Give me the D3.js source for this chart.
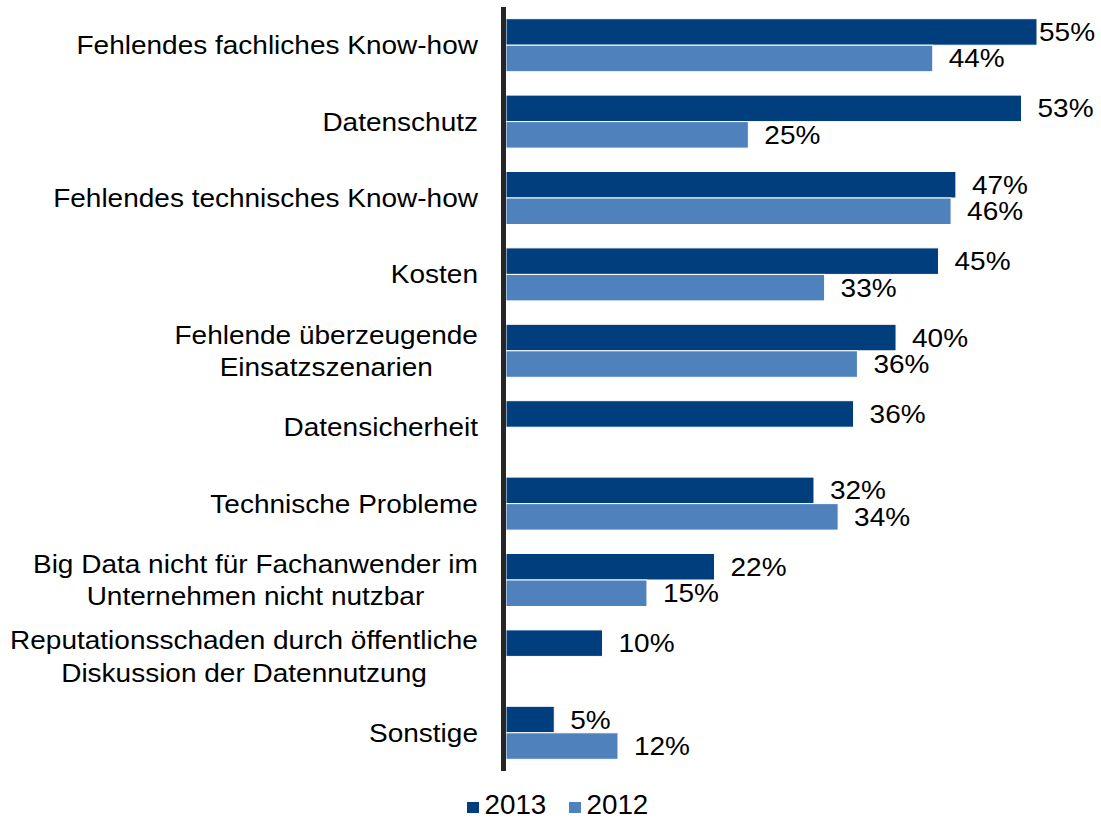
<!DOCTYPE html>
<html lang="de">
<head>
<meta charset="UTF-8">
<title>Big Data Hindernisse</title>
<script src="https://d3js.org/d3.v7.min.js"></script>
<style>
    body { margin: 0; background: #fff; }
    svg { display: block; }
    text { font-family: "Liberation Sans", Arial, sans-serif; fill: #000; }
</style>
</head>
<body>
<script>
    // Kategorien (mehrzeilige Beschriftungen mit "\n")
    const categories = [
        "Fehlendes fachliches Know-how",
        "Datenschutz",
        "Fehlendes technisches Know-how",
        "Kosten",
        "Fehlende überzeugende\nEinsatzszenarien",
        "Datensicherheit",
        "Technische Probleme",
        "Big Data nicht für Fachanwender im\nUnternehmen nicht nutzbar",
        "Reputationsschaden durch öffentliche\nDiskussion der Datennutzung",
        "Sonstige"
    ];
    const seriesNames = ["2013", "2012"];
    const values2013 = [55, 53.4, 46.6, 44.8, 40.4, 36.0, 31.9, 21.6, 10.0, 5.0];
    const values2012 = [44.2, 25.1, 46.1, 33.0, 36.4, null, 34.4, 14.6, null, 11.6];
    const colors = ["#003e7e", "#4f81bd"];

    const width = 1101, height = 820;
    const fontSize = 25;
    const stretch = 1.12; // Text ist im Original horizontal gestreckt

    const svg = d3.select("body").append("svg")
        .attr("width", width)
        .attr("height", height);

    const x = d3.scaleLinear().domain([0, 55]).range([506, 1037]);

    const y = d3.scaleBand()
        .domain(categories)
        .range([7, 771])
        .paddingInner(0.306)
        .paddingOuter(0.153);

    const ySub = d3.scaleBand()
        .domain(seriesNames)
        .range([0, y.bandwidth()]);

    const rows = categories.map((c, i) => ({
        cat: c,
        vals: [values2013[i], values2012[i]]
    }));

    const groups = svg.selectAll(".grp")
        .data(rows)
        .enter().append("g")
        .attr("class", "grp")
        .attr("transform", d => `translate(0,${y(d.cat)})`);

    const bars = groups.selectAll(".bar")
        .data(d => d.vals.map((v, j) => ({ v: v, s: seriesNames[j], j: j })).filter(e => e.v != null))
        .enter();

    bars.append("rect")
        .attr("x", x(0))
        .attr("y", d => ySub(d.s))
        .attr("width", d => x(d.v) - x(0))
        .attr("height", ySub.bandwidth())
        .attr("fill", d => colors[d.j])
        .attr("stroke", "#fff")
        .attr("stroke-width", 1);

    // Wertbeschriftungen rechts der Balken
    bars.append("text")
        .attr("transform", d => {
            const tx = Math.min(x(d.v) + 16, 1039);
            const ty = ySub(d.s) + ySub.bandwidth() / 2;
            return `translate(${tx},${ty}) scale(${stretch},1)`;
        })
        .attr("dy", "0.36em")
        .attr("font-size", fontSize)
        .text(d => Math.round(d.v) + "%");

    // Kategorienbeschriftungen: Block rechtsbündig, Zeilen zentriert
    const labelRight = 478, lineH = 32.5;
    groups.each(function (d) {
        const g = d3.select(this);
        const lines = d.cat.split("\n");
        const t = g.append("text")
            .attr("font-size", fontSize)
            .attr("text-anchor", "middle");
        lines.forEach((ln, k) => {
            t.append("tspan")
                .attr("x", 0)
                .attr("y", y.bandwidth() / 2 + (k - (lines.length - 1) / 2) * lineH)
                .attr("dy", "0.36em")
                .text(ln);
        });
        let maxW = 0;
        t.selectAll("tspan").each(function () {
            maxW = Math.max(maxW, this.getComputedTextLength());
        });
        t.attr("transform", `translate(${labelRight - maxW * stretch / 2},0) scale(${stretch},1)`);
    });

    // Achsenlinie
    svg.append("line")
        .attr("x1", 503.5).attr("x2", 503.5)
        .attr("y1", 7).attr("y2", 771)
        .attr("stroke", "#262626")
        .attr("stroke-width", 5);

    // Legende
    const legend = svg.append("g").attr("transform", "translate(467,805)");
    const legendX = [0, 102];
    seriesNames.forEach((s, i) => {
        const lg = legend.append("g").attr("transform", `translate(${legendX[i]},0)`);
        lg.append("rect")
            .attr("x", 0).attr("y", -3)
            .attr("width", 12).attr("height", 11)
            .attr("fill", colors[i]);
        lg.append("text")
            .attr("x", 17)
            .attr("y", 9)
            .attr("font-size", 27)
            .attr("transform", "scale(1.03,1)")
            .text(s);
    });
</script>
</body>
</html>
